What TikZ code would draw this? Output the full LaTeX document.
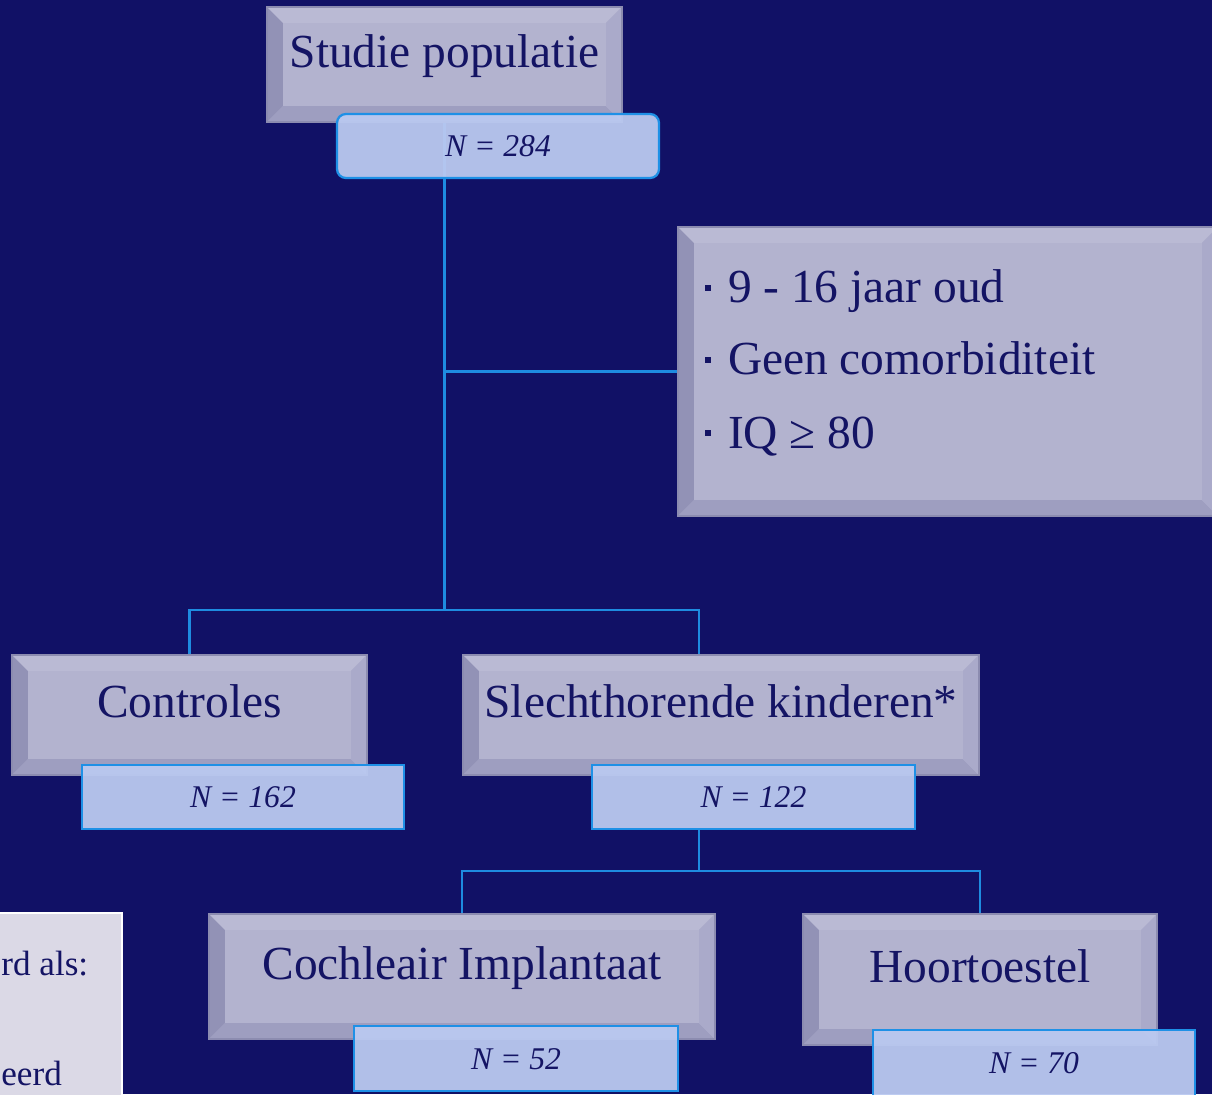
\documentclass[tikz,border=0pt]{standalone}
\usepackage{fontspec}
\setmainfont{Liberation Serif}
\usetikzlibrary{positioning}

\definecolor{navy}{RGB}{17,17,102}
\definecolor{ink}{RGB}{20,20,100}
\definecolor{face}{RGB}{179,179,207}
\definecolor{rim}{RGB}{140,140,176}
\definecolor{bevL}{RGB}{146,146,182}
\definecolor{bevB}{RGB}{158,158,192}
\definecolor{bevT}{RGB}{186,186,212}
\definecolor{bevR}{RGB}{170,170,202}
\definecolor{nfill}{RGB}{186,201,240}
\definecolor{nrim}{RGB}{30,144,230}
\definecolor{wire}{RGB}{30,140,225}
\definecolor{note}{RGB}{219,217,230}

\pgfdeclarelayer{bg}
\pgfdeclarelayer{wires}
\pgfsetlayers{bg,wires,main}

\begin{document}
\begin{tikzpicture}[x=0.02cm, y=-0.02cm,
  bevel/.style={fill=face, draw=rim, line width=1.6pt, path picture={
    \fill[bevL] (path picture bounding box.south west) -- (path picture bounding box.north west)
      -- ([shift={(9pt,-9pt)}]path picture bounding box.north west) -- ([shift={(9pt,9pt)}]path picture bounding box.south west) -- cycle;
    \fill[bevB] (path picture bounding box.south west) -- ([shift={(9pt,9pt)}]path picture bounding box.south west)
      -- ([shift={(-9pt,9pt)}]path picture bounding box.south east) -- (path picture bounding box.south east) -- cycle;
    \fill[bevT] (path picture bounding box.north west) -- ([shift={(9pt,-9pt)}]path picture bounding box.north west)
      -- ([shift={(-9pt,-9pt)}]path picture bounding box.north east) -- (path picture bounding box.north east) -- cycle;
    \fill[bevR] (path picture bounding box.north east) -- ([shift={(-9pt,-9pt)}]path picture bounding box.north east)
      -- ([shift={(-9pt,9pt)}]path picture bounding box.south east) -- (path picture bounding box.south east) -- cycle;
  }},
  box/.style={bevel, text=ink, font=\fontsize{27}{32}\selectfont, text height=18pt, text depth=15pt, inner sep=0pt},
  nbox/.style={fill=nfill, fill opacity=0.95, text opacity=1, draw=nrim, line width=1.3pt, text=ink,
    font=\fontsize{18}{22}\selectfont\itshape, text height=12pt, text depth=0pt, inner sep=0pt,
    minimum width=6.44cm, minimum height=1.28cm},
  crit/.style={anchor=base west, text=ink, font=\fontsize{27}{32}\selectfont, inner sep=0pt},
  link/.style={draw=wire, line width=1.3pt}]

\useasboundingbox (0,0) rectangle (1212,1094);
\begin{pgfonlayer}{bg}
\fill[navy] (0,0) rectangle (1212,1094);
\end{pgfonlayer}
\clip (0,0) rectangle (1212,1094);

% Top
\node[box, minimum width=7.1cm, minimum height=2.3cm] (studie) at (444.5,64.5) {Studie populatie};
\node[nbox, rounded corners=5pt] (n284) at (498,146) {N = 284};

% Criteria
\node[bevel, minimum width=10.8cm, minimum height=5.78cm] (crit) at (948,371.5) {};
\node[crit] (age) at (705,303) {\rule[7pt]{3.4pt}{3.4pt}\hspace{9.5pt}9 - 16 jaar oud};
\node[crit] (comorb) at (705,375) {\rule[7pt]{3.4pt}{3.4pt}\hspace{9.5pt}Geen comorbiditeit};
\node[crit] (iq) at (705,448) {\rule[7pt]{3.4pt}{3.4pt}\hspace{9.5pt}IQ ≥ 80};

% Groups
\node[box, minimum width=7.1cm, minimum height=2.4cm] (controles) at (189.5,715) {Controles};
\node[nbox] (n162) at (243,797) {N = 162};
\node[box, minimum width=10.32cm, minimum height=2.4cm] (slecht) at (721,715) {Slechthorende kinderen*};
\node[nbox, minimum width=6.46cm] (n122) at (753.5,797) {N = 122};

% Subgroups
\node[box, minimum width=10.12cm, minimum height=2.5cm] (cochl) at (462,976.5) {Cochleair Implantaat};
\node[nbox, minimum width=6.48cm, minimum height=1.3cm] (n52) at (516,1058.5) {N = 52};
\node[box, minimum width=7.08cm, minimum height=2.62cm] (hoort) at (980,979.5) {Hoortoestel};
\node[nbox, minimum height=1.32cm] (n70) at (1034,1063) {N = 70};

% Note box, cut off at the left
\node[fill=note, draw=white, line width=1.5pt, minimum width=4.4cm, minimum height=4.2cm] (note) at (12,1018) {};
\node[anchor=base west, text=ink, font=\fontsize{20}{24}\selectfont, inner sep=0pt] (als) at (1,975) {rd als:};
\node[anchor=base west, text=ink, font=\fontsize{20}{24}\selectfont, inner sep=0pt] (eerd) at (1,1085) {eerd};

\coordinate (stem) at (699,610);
\coordinate (fork) at (699,871);

\begin{pgfonlayer}{wires}
\draw[link] (studie.south) -- (studie.south |- stem);
\draw[link] (studie.south |- crit.west) -- (crit.west);
\draw[link] (controles.north) |- (stem) -- (stem |- slecht.north);
\draw[link] (stem |- n122.south) -- (fork);
\draw[link] (cochl.north) |- (fork) -| (hoort.north);
\end{pgfonlayer}
\end{tikzpicture}
\end{document}
